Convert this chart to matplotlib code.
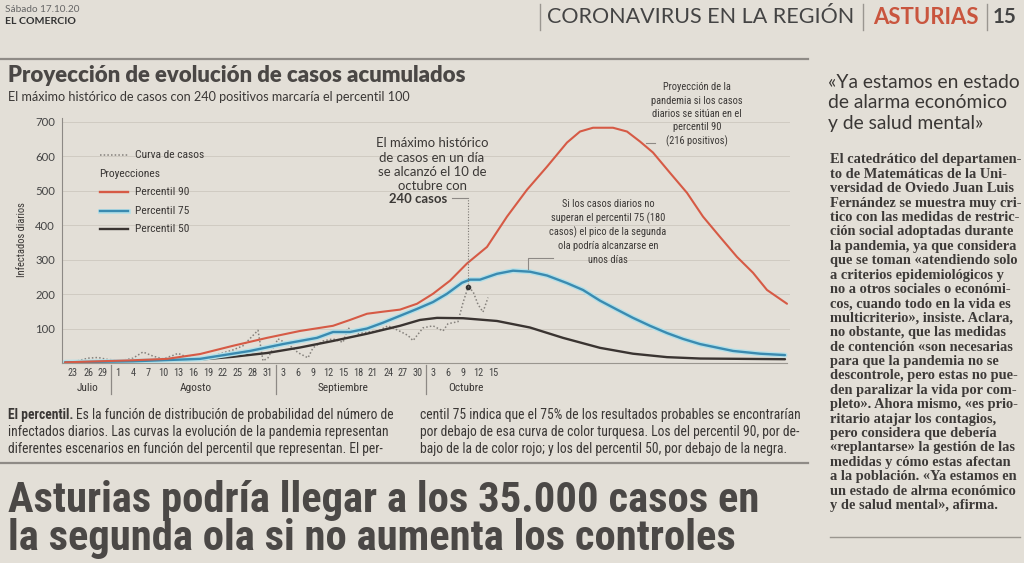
import numpy as np
import matplotlib
matplotlib.use("Agg")
import matplotlib.pyplot as plt
import matplotlib.patheffects as pe
from matplotlib.lines import Line2D
from matplotlib.font_manager import findfont, FontProperties

# days counted from 23 July 2020
case_days = [-2, 0, 3, 5, 7, 10, 12, 14, 16, 18, 20, 21, 23, 26, 29, 32, 34, 37, 38, 39,
             41, 43, 45, 47, 48, 50, 52, 54, 55, 57, 59, 61, 63, 65, 67, 68, 70, 72, 74,
             75, 77, 78, 79, 80, 81, 82, 83]
case_vals = [1, 3, 14, 16, 10, 8, 14, 32, 20, 12, 22, 28, 16, 14, 25, 38, 50, 95, 6, 15,
             70, 55, 30, 15, 44, 64, 70, 60, 102, 85, 90, 93, 108, 95, 80, 65, 102, 108, 93,
             114, 120, 175, 220, 208, 170, 148, 190]

p90_days = [-1.6, 5.4, 12, 18.8, 25.4, 32, 38.8, 45.4, 52, 55.4, 58.8, 62, 65.4, 68.8, 72,
            75.4, 78.8, 82.8, 86.8, 90.8, 94.8, 98.8, 101.4, 104, 108, 110.8, 113.4, 116,
            119.4, 122.8, 126, 129.4, 132.8, 136, 138.8, 142.8]
p90_vals = [2, 5, 8, 12, 26, 50, 73, 93, 108, 125, 143, 149, 155, 172, 201,
            239, 289, 337, 425, 503, 570, 640, 672, 683, 683, 672, 643, 611,
            552, 494, 425, 366, 308, 262, 212, 172]

p75_days = [-1.6, 12, 25.4, 35.4, 42, 48.8, 52, 55.4, 58.8, 62, 65.4, 68.8, 72, 74.8, 77.8,
            79.4, 81.4, 84.8, 88, 91.4, 94.8, 98.8, 102, 105.4, 108.8, 112, 115.4, 118.8,
            122, 125.4, 132, 137.4, 142.4]
p75_vals = [2, 5, 12, 35, 55, 73, 90, 90, 100, 117, 137, 157, 177, 201, 233,
            242, 242, 259, 268, 265, 254, 232, 212, 181, 155, 131, 108, 87,
            70, 55, 35, 27, 23]

p50_days = [-1.6, 12, 25.4, 32, 38.8, 45.4, 52, 58.8, 65.4, 69.4, 72.8, 78, 84.8, 91.4, 98,
            105.4, 112, 118.8, 125.4, 142.4]
p50_vals = [2, 4, 10, 18, 29, 45, 64, 85, 108, 125, 131, 130, 122, 103, 73,
            44, 27, 17, 13, 11]

tick_days = list(range(0, 85, 3))
tick_labels = ["23", "26", "29", "1", "4", "7", "10", "13", "16", "19", "22", "25", "28", "31",
               "3", "6", "9", "12", "15", "18", "21", "24", "27", "30", "3", "6", "9", "12", "15"]
months = ["Julio", "Agosto", "Septiembre", "Octubre"]
month_pos = [3, 24.5, 54, 78.5]
month_breaks = [7.5, 40.5, 70.5]
y_ticks = [100, 200, 300, 400, 500, 600, 700]

BG = "#e3dfd7"
DARK = "#3b3836"
RED = "#d65a45"
BLUE = "#3a8ab0"
BLACK = "#3a3431"
GRID = "#d0cbc2"


def pick(cands, default):
    for fam in cands:
        try:
            findfont(FontProperties(family=fam), fallback_to_default=False)
            return fam
        except Exception:
            pass
    return default


NARROW = pick(["Liberation Sans Narrow", "Roboto Condensed", "Open Sans Condensed"], "Roboto")
SANS = pick(["Lato"], "DejaVu Sans")
SERIF = pick(["Liberation Serif"], "DejaVu Serif")

W, H = 1024, 563
fig = plt.figure(figsize=(W / 100, H / 100), dpi=100, facecolor=BG)
renderer = fig.canvas.get_renderer()


def txt(x, y, s, px, **kw):
    kw.setdefault("color", DARK)
    kw.setdefault("va", "center")
    return fig.text(x / W, 1 - y / H, s, fontsize=px * 0.72, **kw)


def fit(t, width):
    w = t.get_window_extent(renderer).width
    t.set_fontsize(t.get_fontsize() * width / w)
    return t.get_fontsize()


def hline(x0, x1, y, **kw):
    fig.add_artist(Line2D([x0 / W, x1 / W], [1 - y / H, 1 - y / H], **kw))


def vline(x, y0, y1, **kw):
    fig.add_artist(Line2D([x / W, x / W], [1 - y0 / H, 1 - y1 / H], **kw))


# ---- page header
txt(5, 9, "Sábado 17.10.20", 10, family=SANS, color="#666")
txt(5, 22, "EL COMERCIO", 10.5, family=SANS, weight="bold", color="#333")
t = txt(547, 17, "CORONAVIRUS EN LA REGIÓN", 18, family=SANS, color="#444")
fit(t, 306)
t = txt(873, 17, "ASTURIAS", 18, family=SANS, weight="bold", color="#c9553e")
fit(t, 106)
t = txt(993, 17, "15", 18, family=SANS, weight="bold", color="#444")
fit(t, 24)
for x in [540, 863, 987]:
    vline(x, 4, 30, color="#9a9690", lw=1)

hline(0, 808, 59, color="#8f8b86", lw=1.6)
hline(0, 808, 463, color="#8f8b86", lw=1.6)

# ---- chart title
t = txt(8, 76, "Proyección de evolución de casos acumulados", 20, family=SANS,
        weight="heavy", color="#4a4745")
fit(t, 458)
t = txt(8, 97, "El máximo histórico de casos con 240 positivos marcaría el percentil 100",
        12, family=SANS, color="#3a3735")
fit(t, 404)

# ---- chart
ax = fig.add_axes([62 / W, 1 - 363 / H, (790 - 62) / W, (363 - 115) / H])
ax.set_facecolor("none")
ax.set_xlim(-2.2, 143.4)
ax.set_ylim(0, 720)
ax.set_yticks(y_ticks)
ax.set_yticklabels([str(v) for v in y_ticks], family=SANS, fontsize=8.2, color="#444")
ax.set_xticks(tick_days)
ax.set_xticklabels(tick_labels, family=NARROW, fontsize=7.4, color="#444")
ax.tick_params(axis="both", length=0)
ax.tick_params(axis="y", pad=5)
ax.tick_params(axis="x", pad=3.5)
ax.yaxis.grid(True, color=GRID, lw=0.7)
ax.set_axisbelow(True)
for s in ["top", "right"]:
    ax.spines[s].set_visible(False)
ax.spines["left"].set_color("#8d8985")
ax.spines["left"].set_bounds(0, 712)
ax.spines["bottom"].set_color("#9a968f")
ax.spines["bottom"].set_bounds(-2.2, 142.8)

ax.plot(case_days, case_vals, color="#85817c", lw=1.1, ls=(0, (1, 1.4)))
ax.plot(p50_days, p50_vals, color=BLACK, lw=1.7, solid_capstyle="round")
ax.plot(p75_days, p75_vals, color=BLUE, lw=1.7, solid_capstyle="round",
        path_effects=[pe.Stroke(linewidth=3.6, foreground="#b4e0e8"), pe.Normal()])
ax.plot(p90_days, p90_vals, color=RED, lw=1.5, solid_capstyle="round")

# maximum marker and connectors
ax.plot([79], [220], "o", ms=3, color="#333")
ax.plot([79, 79], [220, 479], color="#7d7974", lw=0.8, ls=(0, (1, 1.5)))
ax.plot([75.8, 79], [479, 479], color="#8d8985", lw=0.8)
ax.plot([91, 91, 96], [272, 305, 305], color="#8d8985", lw=0.8)
ax.plot([114.6, 116.4], [640, 640], color="#8d8985", lw=0.8)

# month labels and separators
xt = ax.get_xaxis_transform()
for m, p in zip(months, month_pos):
    ax.text(p, -25 / 248, m, transform=xt, ha="center", va="center",
            family=NARROW, fontsize=8.2, color="#3a3735")
for b in month_breaks:
    ax.plot([b, b], [-2 / 248, -31 / 248], transform=xt, color="#8d8985", lw=0.9,
            clip_on=False)

txt(22, 240, "Infectados diarios", 10.5, family=NARROW, rotation=90, ha="center",
    color="#3a3735")

# legend
leg = [("Curva de casos", "#85817c", (0, (1, 1.4)), 155),
       ("Percentil 90", RED, "-", 192),
       ("Percentil 75", BLUE, "-", 211),
       ("Percentil 50", BLACK, "-", 229)]
for label, c, ls, y in leg:
    ln = Line2D([100 / W, 128 / W], [1 - y / H, 1 - y / H], color=c, ls=ls,
                lw=1.1 if label.startswith("Curva") else 1.7)
    if c == BLUE:
        ln.set_path_effects([pe.Stroke(linewidth=3.4, foreground="#b4e0e8"), pe.Normal()])
    fig.add_artist(ln)
    txt(135, y, label, 11.5, family=NARROW, color="#3a3735")
txt(99, 174, "Proyecciones", 11.5, family=NARROW, color="#3a3735")

# annotations
note1 = ["El máximo histórico", "de casos en un día", "se alcanzó el 10 de", "octubre con"]
t = txt(432, 143, note1[0], 13, family=SANS, ha="center")
fs = fit(t, 112)
for i, line in enumerate(note1[1:]):
    fig.text(432 / W, 1 - (157.5 + 14.2 * i) / H, line, fontsize=fs, family=SANS,
             ha="center", va="center", color=DARK)
fig.text(418 / W, 1 - 199 / H, "240 casos", fontsize=fs, family=SANS, weight="bold",
         ha="center", va="center", color=DARK)

note2 = ["Proyección de la", "pandemia si los casos", "diarios se sitúan en el",
         "percentil 90", "(216 positivos)"]
t = txt(697, 87, note2[2], 11, family=NARROW, ha="center")
fs = fit(t, 90)
t.set_text(note2[0])
for i, line in enumerate(note2[1:]):
    fig.text(697 / W, 1 - (87 + 13.5 * (i + 1)) / H, line, fontsize=fs, family=NARROW,
             ha="center", va="center", color=DARK)

note3 = ["Si los casos diarios no", "superan el percentil 75 (180",
         "casos) el pico de la segunda", "ola podría alcanzarse en", "unos días"]
t = txt(608, 204, note3[2], 11, family=NARROW, ha="center")
fs = fit(t, 117)
t.set_text(note3[0])
for i, line in enumerate(note3[1:]):
    fig.text(608 / W, 1 - (204 + 14 * (i + 1)) / H, line, fontsize=fs, family=NARROW,
             ha="center", va="center", color=DARK)

# ---- footnote
left = ["Es la función de distribución de probabilidad del número de",
        "infectados diarios. Las curvas la evolución de la pandemia representan",
        "diferentes escenarios en función del percentil que representan. El per-"]
right = ["centil 75 indica que el 75% de los resultados probables se encontrarían",
         "por debajo de esa curva de color turquesa. Los del percentil 90, por de-",
         "bajo de la de color rojo; y los del percentil 50, por debajo de la negra."]
t = txt(8, 432, left[1], 11.5, family=NARROW, color="#3a3735")
fs = fit(t, 380)
b = txt(8, 415, "El percentil.", 11.5, family=NARROW, weight="bold", color="#3a3735")
b.set_fontsize(fs)
bw = b.get_window_extent(renderer).width
txt(8 + bw + 3, 415, left[0], 11.5, family=NARROW, color="#3a3735").set_fontsize(fs)
txt(8, 449, left[2], 11.5, family=NARROW, color="#3a3735").set_fontsize(fs)
for i, line in enumerate(right):
    txt(420, 415 + 17 * i, line, 11.5, family=NARROW, color="#3a3735").set_fontsize(fs)

# ---- headline
t = txt(8, 512, "Asturias podría llegar a los 35.000 casos en", 50, family=NARROW,
        weight="bold", color="#4b4846", va="baseline")
fs = fit(t, 752)
txt(8, 550, "la segunda ola si no aumenta los controles", 50, family=NARROW,
    weight="bold", color="#4b4846", va="baseline").set_fontsize(fs)

# ---- side column
quote = ["«Ya estamos en estado", "de alarma económico", "y de salud mental»"]
t = txt(828, 82, quote[0], 19, family=SANS, color="#3a3735")
fs = fit(t, 192)
for i, line in enumerate(quote[1:]):
    txt(828, 82 + 20.5 * (i + 1), line, 19, family=SANS, color="#3a3735").set_fontsize(fs)

body = ["El catedrático del departamen-", "to de Matemáticas de la Uni-",
        "versidad de Oviedo Juan Luis", "Fernández se muestra muy cri-",
        "tico con las medidas de restric-", "ción social adoptadas durante",
        "la pandemia, ya que considera", "que se toman «atendiendo solo",
        "a criterios epidemiológicos y", "no a otros sociales o económi-",
        "cos, cuando todo en la vida es", "multicriterio», insiste. Aclara,",
        "no obstante, que las medidas", "de contención «son necesarias",
        "para que la pandemia no se", "descontrole, pero estas no pue-",
        "den paralizar la vida por com-", "pleto». Ahora mismo, «es prio-",
        "ritario atajar los contagios,", "pero considera que debería",
        "«replantarse» la gestión de las", "medidas y cómo estas afectan",
        "a la población. «Ya estamos en", "un estado de alrma económico",
        "y de salud mental», afirma."]
t = txt(830, 160 + 14.4 * 4, body[4], 12, family=SERIF, weight="bold", color="#3d3a38")
fs = fit(t, 188)
for i, line in enumerate(body):
    if i == 4:
        continue
    txt(830, 160 + 14.4 * i, line, 12, family=SERIF, weight="bold",
        color="#3d3a38").set_fontsize(fs)
hline(830, 1020, 537, color="#9a968f", lw=1)

fig.savefig("out.png", dpi=100, facecolor=BG)
